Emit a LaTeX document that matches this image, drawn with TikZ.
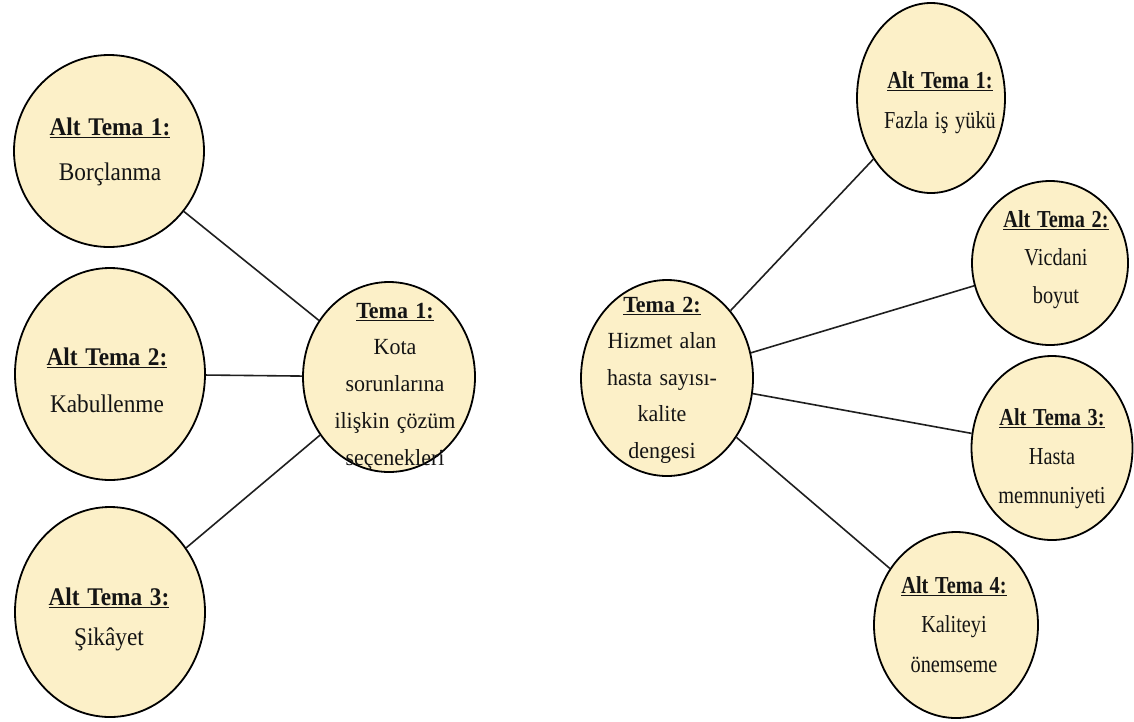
\documentclass[tikz,border=0pt]{standalone}
\usepackage{fontspec}
\usepackage{graphicx}
\setmainfont{Liberation Serif}
\usetikzlibrary{shapes.geometric}
\definecolor{themefill}{RGB}{252,240,200}
\newcommand\vsf{1}
\newcommand\vs[1]{\scalebox{1}[\vsf]{#1}}
\newcommand\hdr[1]{\vs{\textbf{\underline{#1}}}}
\begin{document}
\begin{tikzpicture}[x=1pt,y=-1pt,
  bubble/.style={ellipse, draw=black, line width=1.8pt, fill=themefill, inner sep=0pt},
  link/.style={draw=black!88, line width=1.6pt},
  lines/.style={text width=200pt, align=center, anchor=base, inner sep=0pt, text=black!92}]
\fill[white] (0,0) rectangle (1134,721);
\useasboundingbox (0,0) rectangle (1134,721);

% ellipses
\node[bubble, minimum width=190pt, minimum height=192pt] (la1) at (109,151) {};
\node[bubble, minimum width=190pt, minimum height=212pt] (la2) at (110,374) {};
\node[bubble, minimum width=190pt, minimum height=210pt] (la3) at (110,612) {};
\node[bubble, minimum width=172pt, minimum height=190pt] (t1) at (389,377) {};
\node[bubble, minimum width=172pt, minimum height=196pt] (t2) at (667,378) {};
\node[bubble, minimum width=148pt, minimum height=190pt] (ra1) at (931,98) {};
\node[bubble, minimum width=156pt, minimum height=164pt] (ra2) at (1050,263) {};
\node[bubble, minimum width=161pt, minimum height=184pt] (ra3) at (1052,448) {};
\node[bubble, minimum width=164pt, minimum height=186pt] (ra4) at (956,625) {};

% connectors
\draw[link] (la1) -- (t1);
\draw[link] (la2) -- (t1);
\draw[link] (la3) -- (t1);
\draw[link] (t2) -- (ra1);
\draw[link] (t2) -- (ra2);
\draw[link] (t2) -- (ra3);
\draw[link] (t2) -- (ra4);

% texts
\node[lines, font=\fontsize{23.3}{45}\selectfont\renewcommand\vsf{1.09}] (la1txt) at (110,135)
  {\hdr{Alt Tema 1:}\\\vs{Borçlanma}};
\node[lines, font=\fontsize{23.3}{47}\selectfont\renewcommand\vsf{1.09}] (la2txt) at (107,365)
  {\hdr{Alt Tema 2:}\\\vs{Kabullenme}};
\node[lines, font=\fontsize{23.3}{40}\selectfont\renewcommand\vsf{1.09}] (la3txt) at (109,605)
  {\hdr{Alt Tema 3:}\\\vs{Şikâyet}};
\node[lines, font=\fontsize{22}{36.75}\selectfont\renewcommand\vsf{1.05}] (t1txt) at (395,318)
  {\hdr{Tema 1:}\\\vs{Kota}\\\vs{sorunlarına}\\\vs{ilişkin çözüm}\\\vs{seçenekleri}};
\node[lines, font=\fontsize{22}{36.5}\selectfont\renewcommand\vsf{1.05}] (t2txt) at (662,312)
  {\hdr{Tema 2:}\\\vs{Hizmet alan}\\\vs{hasta sayısı-}\\\vs{kalite}\\\vs{dengesi}};
\node[lines, font=\fontsize{20.3}{40}\selectfont\renewcommand\vsf{1.2}] (ra1txt) at (940,88)
  {\hdr{Alt Tema 1:}\\\vs{Fazla iş yükü}};
\node[lines, font=\fontsize{20.3}{38}\selectfont\renewcommand\vsf{1.2}] (ra2txt) at (1056,227)
  {\hdr{Alt Tema 2:}\\\vs{Vicdani}\\\vs{boyut}};
\node[lines, font=\fontsize{20.3}{39}\selectfont\renewcommand\vsf{1.2}] (ra3txt) at (1052,425)
  {\hdr{Alt Tema 3:}\\\vs{Hasta}\\\vs{memnuniyeti}};
\node[lines, font=\fontsize{20.3}{39.5}\selectfont\renewcommand\vsf{1.2}] (ra4txt) at (954,593)
  {\hdr{Alt Tema 4:}\\\vs{Kaliteyi}\\\vs{önemseme}};
\end{tikzpicture}
\end{document}
